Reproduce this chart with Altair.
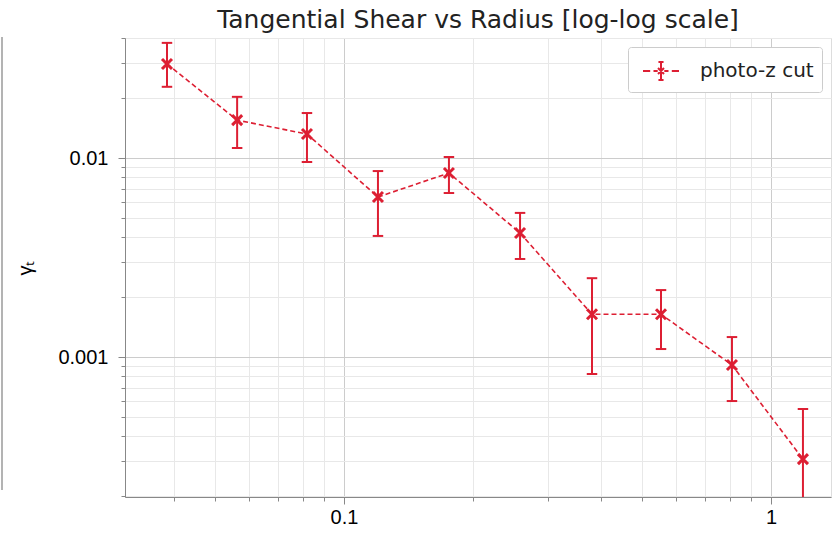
import altair as alt
import pandas as pd

# Tangential shear profile in radial bins
radius = [0.0385, 0.0562, 0.0819, 0.1201, 0.1761, 0.2584, 0.3809, 0.5526, 0.8102, 1.188]
gamma_t = [0.0297, 0.0155, 0.0132, 0.00637, 0.00841, 0.00420, 0.00164, 0.00164, 0.000912, 0.000307]
gamma_lo = [0.0228, 0.01123, 0.00955, 0.00406, 0.00667, 0.00311, 0.000822, 0.001097, 0.000601, 0.00007]
gamma_hi = [0.0379, 0.0203, 0.01683, 0.00860, 0.01012, 0.00530, 0.00249, 0.00217, 0.00126, 0.000548]
series = "photo-z cut"

x_ticks = [0.04, 0.05, 0.06, 0.07, 0.08, 0.09, 0.1, 0.2, 0.3, 0.4, 0.5, 0.6, 0.7, 0.8, 0.9, 1.0]
y_ticks = [0.0002, 0.0003, 0.0004, 0.0005, 0.0006, 0.0007, 0.0008, 0.0009, 0.001,
           0.002, 0.003, 0.004, 0.005, 0.006, 0.007, 0.008, 0.009, 0.01, 0.02, 0.03, 0.04]

df = pd.DataFrame({
    "r": radius, "g": gamma_t, "lo": gamma_lo, "hi": gamma_hi,
    "series": [series] * len(radius),
})

RED = "#dd1f33"
FONT = "DejaVu Sans"
is_major = "abs(log(datum.value)/LN10 - round(log(datum.value)/LN10)) < 1e-6"

grid_color = {"condition": {"test": is_major, "value": "#cccccc"}, "value": "#e8e8e8"}
tick_size = {"condition": {"test": is_major, "value": 7}, "value": 4}

x_scale = alt.Scale(type="log", domain=[0.0307, 1.382], nice=False)
y_scale = alt.Scale(type="log", domain=[0.000198, 0.0401], nice=False)

x_axis = alt.Axis(values=x_ticks, format="~g", labelExpr=f"{is_major} ? datum.label : ''",
                  title=None, grid=True, gridColor=grid_color, tickSize=tick_size,
                  labelPadding=3, labelFontSize=20, labelFlush=False, labelOverlap=False)
y_axis = alt.Axis(values=y_ticks, format="~g", labelExpr=f"{is_major} ? datum.label : ''",
                  title="γₜ", titleFontSize=20, titleFontWeight="normal", titlePadding=22,
                  grid=True, gridColor=grid_color, tickSize=tick_size,
                  labelPadding=10, labelFontSize=20, labelFlush=False, labelOverlap=False)

# dashed handle with the error bar and cross drawn over it
legend_symbol = ("M-1.2,0H-0.72M-0.5,0H-0.22M0.22,0H0.5M0.72,0H1.2"
                 "M0,-0.6V0.6M-0.17,-0.6H0.17M-0.17,0.6H0.17"
                 "M-0.2,-0.2L0.2,0.2M-0.2,0.2L0.2,-0.2")

color = alt.Color("series:N", scale=alt.Scale(range=[RED]),
                  legend=alt.Legend(title=None, orient="top-right", offset=9,
                                    symbolType=legend_symbol, symbolSize=900,
                                    symbolStrokeWidth=2, symbolFillColor="transparent",
                                    symbolStrokeColor=RED, symbolOffset=9,
                                    labelFontSize=20, labelFont=FONT, labelColor="#222",
                                    labelOffset=23, padding=8, fillColor="white",
                                    strokeColor="#cccccc", cornerRadius=3))

base = alt.Chart(df)

line = base.mark_line(strokeDash=[5, 3], strokeWidth=1.6, clip=True).encode(
    x=alt.X("r:Q", scale=x_scale, axis=x_axis),
    y=alt.Y("g:Q", scale=y_scale, axis=y_axis),
    color=color,
)

bars = base.mark_rule(strokeWidth=2, clip=True).encode(
    x="r:Q", y="lo:Q", y2="hi:Q", color=alt.Color("series:N", legend=None),
)

cap_shape = "M-1,0H1"
caps_hi = base.mark_point(shape=cap_shape, size=110, strokeWidth=2, filled=False,
                          opacity=1, clip=True).encode(
    x="r:Q", y="hi:Q", color=alt.Color("series:N", legend=None))
caps_lo = base.mark_point(shape=cap_shape, size=110, strokeWidth=2, filled=False,
                          opacity=1, clip=True).encode(
    x="r:Q", y="lo:Q", color=alt.Color("series:N", legend=None))

markers = base.mark_point(shape="M-1,-1L1,1M-1,1L1,-1", size=100, strokeWidth=3,
                          filled=False, opacity=1, clip=True).encode(
    x="r:Q", y="g:Q", color=alt.Color("series:N", legend=None))

# thin border line at the far left edge of the figure
edge = alt.Chart(pd.DataFrame({"k": [0]})).mark_rule(color="#9a9a9a", strokeWidth=1.5).encode(
    x=alt.value(-123), y=alt.value(-1), y2=alt.value(452))

chart = alt.layer(line, bars, caps_hi, caps_lo, markers, edge).properties(
    width=706, height=459,
    title=alt.Title("Tangential Shear vs Radius [log-log scale]", fontSize=25,
                    font=FONT, fontWeight="normal", color="#222", offset=8, dy=13),
    autosize=alt.AutoSizeParams(type="none"),
    padding={"left": 125, "top": 38, "right": 8, "bottom": 36},
).configure_view(
    stroke="#333333", strokeWidth=1.4,
).configure_axis(
    labelFont=FONT, titleFont=FONT, labelColor="#222", titleColor="#222",
    domain=False, tickColor="#333333", tickWidth=1.2, gridWidth=1,
).configure(background="white")

chart.save("out.html", embed_options={"renderer": "svg", "actions": False})
